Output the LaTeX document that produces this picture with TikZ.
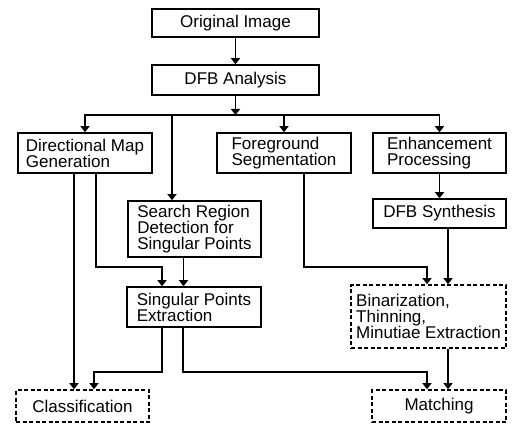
\documentclass[tikz,border=0pt]{standalone}
\usepackage{fontspec}
\newfontfamily\flowfont{Liberation Sans}
\usetikzlibrary{arrows.meta,positioning}

\begin{document}
\begin{tikzpicture}[x=1pt,y=-1pt,>={Triangle[length=6pt,width=9pt]},line width=1.6pt,
  procbox/.style={draw,align=left,inner sep=2pt,font=\flowfont\fontsize{17pt}{16pt}\selectfont},
  optbox/.style={procbox,dash pattern=on 4pt off 2.5pt}]
\useasboundingbox (0,0) rectangle (514,425);
\node (orig)   at (235.5,23)  [procbox,minimum width=167pt,minimum height=28pt] {Original Image};
\node (dfb)    at (235.5,80)  [procbox,minimum width=167pt,minimum height=30pt] {DFB Analysis};
\node (dirmap) at (85,153)    [procbox,minimum width=134pt,minimum height=40pt] {Directional Map\\Generation};
\node (fore)   at (284,153)   [procbox,minimum width=134pt,minimum height=40pt] {Foreground\\Segmentation};
\node (enh)    at (439.5,153) [procbox,minimum width=133pt,minimum height=40pt] {Enhancement\\Processing};
\node (search) at (194.5,229) [procbox,minimum width=133pt,minimum height=56pt] {Search Region\\Detection for\\Singular Points};
\node (synth)  at (439.5,213.5) [procbox,minimum width=133pt,minimum height=29pt] {DFB Synthesis};
\node (sing)   at (194,307)   [procbox,minimum width=134pt,minimum height=40pt] {Singular Points\\Extraction};
\node (bin)    at (428.5,316.5) [optbox,minimum width=155pt,minimum height=63pt] {Binarization,\\Thinning,\\Minutiae Extraction};
\node (class)  at (82.5,406)  [optbox,minimum width=133pt,minimum height=32pt] {Classification};
\node (match)  at (439,406)   [optbox,minimum width=134pt,minimum height=32pt] {Matching};
\coordinate (busrow) at (0,115);
\coordinate (midA) at (0,267);
\coordinate (midB) at (0,372);
% top part
\draw[->] (orig) -- (dfb);
\draw[->] (dfb) -- (dfb.south |- busrow);
\draw[->] (dfb.south |- busrow) -| (dirmap);
\draw[->] (dfb.south |- busrow) -| ([xshift=-22.5pt]search.north);
\draw[->] (dfb.south |- busrow) -| (fore);
\draw[->] (dfb.south |- busrow) -| (enh);
\draw[->] (enh) -- (synth);
% middle part
\draw[->] ([xshift=-11pt]dirmap.south) -- ([xshift=-11pt]dirmap.south |- class.north);
\draw[->] ([xshift=11pt]dirmap.south) -- ([xshift=11pt]dirmap.south |- midA) -| ([xshift=-32pt]sing.north);
\draw[->] ([xshift=-11pt]search.south) -- ([xshift=-11pt]search.south |- sing.north);
\draw[->] ([xshift=20pt]fore.south) -- ([xshift=20pt]fore.south |- midA) -| ([xshift=-1.5pt]bin.north);
\draw[->] ([xshift=8.5pt]synth.south) -- ([xshift=8.5pt]synth.south |- bin.north);
% bottom part
\draw[->] ([xshift=-32pt]sing.south) -- ([xshift=-32pt]sing.south |- midB) -| ([xshift=11.5pt]class.north);
\draw[->] ([xshift=-11pt]sing.south) -- ([xshift=-11pt]sing.south |- midB) -| ([xshift=-12pt]match.north);
\draw[->] ([xshift=19.5pt]bin.south) -- ([xshift=19.5pt]bin.south |- match.north);
\end{tikzpicture}
\end{document}
